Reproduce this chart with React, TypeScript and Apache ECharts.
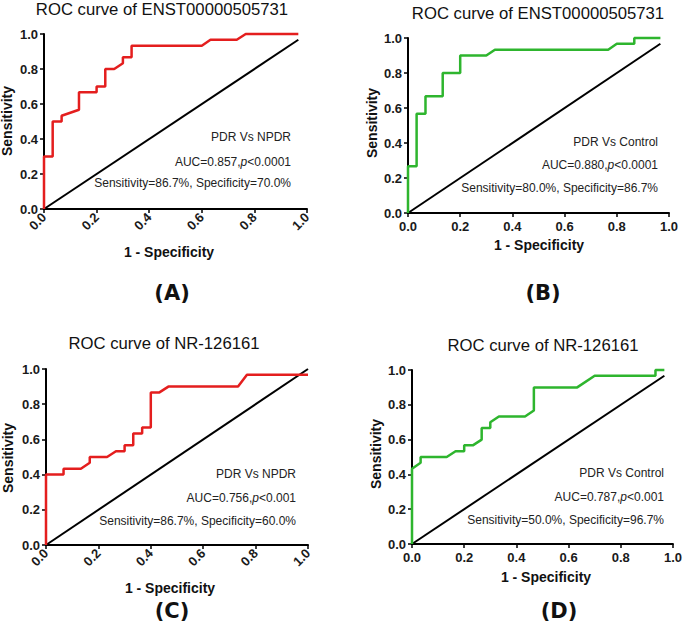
import React, { useEffect, useRef } from 'react';
import * as echarts from 'echarts';

// ---- data ----
const A_FPR = [0, 0, 0.033, 0.033, 0.067, 0.067, 0.133, 0.133, 0.2, 0.2, 0.233, 0.233, 0.267, 0.3, 0.3, 0.333, 0.333, 0.6, 0.633, 0.733, 0.767, 0.967];
const A_TPR = [0, 0.3, 0.3, 0.5, 0.5, 0.533, 0.567, 0.667, 0.667, 0.7, 0.7, 0.8, 0.8, 0.833, 0.867, 0.867, 0.933, 0.933, 0.967, 0.967, 1.0, 1.0];

const B_FPR = [0, 0, 0.033, 0.033, 0.067, 0.067, 0.133, 0.133, 0.2, 0.2, 0.3, 0.333, 0.767, 0.8, 0.867, 0.867, 0.967];
const B_TPR = [0, 0.267, 0.267, 0.567, 0.567, 0.667, 0.667, 0.8, 0.8, 0.9, 0.9, 0.933, 0.933, 0.967, 0.967, 1.0, 1.0];

const C_FPR = [0, 0, 0.067, 0.067, 0.133, 0.167, 0.167, 0.233, 0.267, 0.3, 0.3, 0.333, 0.333, 0.367, 0.367, 0.4, 0.4, 0.433, 0.467, 0.733, 0.767, 1.0];
const C_TPR = [0, 0.4, 0.4, 0.433, 0.433, 0.467, 0.5, 0.5, 0.533, 0.533, 0.567, 0.567, 0.633, 0.633, 0.667, 0.667, 0.867, 0.867, 0.9, 0.9, 0.967, 0.967];

const D_FPR = [0, 0, 0.033, 0.033, 0.133, 0.167, 0.2, 0.2, 0.233, 0.267, 0.267, 0.3, 0.3, 0.333, 0.433, 0.467, 0.467, 0.633, 0.7, 0.933, 0.933, 0.967];
const D_TPR = [0, 0.433, 0.467, 0.5, 0.5, 0.533, 0.533, 0.567, 0.567, 0.6, 0.667, 0.667, 0.7, 0.733, 0.733, 0.767, 0.9, 0.9, 0.967, 0.967, 1.0, 1.0];

const DIAG_END = [0.967, 0.967, 1.0, 0.967];

const TITLES = ['ROC curve of ENST00000505731', 'ROC curve of ENST00000505731', 'ROC curve of NR-126161', 'ROC curve of NR-126161'];
const COMPARISONS = ['PDR Vs NPDR', 'PDR Vs Control', 'PDR Vs NPDR', 'PDR Vs Control'];
const AUC = ['0.857', '0.880', '0.756', '0.787'];
const PVAL = ['<0.0001', '<0.0001', '<0.001', '<0.001'];
const SENS = ['86.7%', '80.0%', '86.7%', '50.0%'];
const SPEC = ['70.0%', '86.7%', '60.0%', '96.7%'];
const PANEL_LABELS = ['(A)', '(B)', '(C)', '(D)'];
const X_NAME = '1 - Specificity';
const Y_NAME = 'Sensitivity';

// ---- layout ----
const RED = '#e41e1e';
const GREEN = '#2eb52e';
const FONT = 'Arial, "Liberation Sans", sans-serif';

const PANELS = [
  { fpr: A_FPR, tpr: A_TPR, color: RED, rotate: 45, grid: { left: 44, top: 34, width: 263, height: 175 },
    title: [162, 9], ann: [291, 137, 162, 183], xName: [169, 252], yName: [7, 121], label: [172, 293] },
  { fpr: B_FPR, tpr: B_TPR, color: GREEN, rotate: 0, grid: { left: 408, top: 38, width: 261, height: 175 },
    title: [538, 13], ann: [658, 142, 165, 188], xName: [539, 245], yName: [372, 123], label: [543, 293] },
  { fpr: C_FPR, tpr: C_TPR, color: RED, rotate: 45, grid: { left: 46, top: 369, width: 262, height: 176 },
    title: [164, 343], ann: [296, 474, 498, 521], xName: [170, 588], yName: [8, 458], label: [172, 611] },
  { fpr: D_FPR, tpr: D_TPR, color: GREEN, rotate: 0, grid: { left: 412, top: 370, width: 265, height: 174 },
    title: [543, 345], ann: [664, 473, 497, 520], xName: [546, 577], yName: [376, 454], label: [559, 611] },
];

function buildOption() {
  const grid: any[] = [];
  const xAxis: any[] = [];
  const yAxis: any[] = [];
  const series: any[] = [];
  const graphic: any[] = [];

  PANELS.forEach((p, i) => {
    grid.push({ ...p.grid, containLabel: false });
    const axisCommon = {
      type: 'value',
      gridIndex: i,
      min: 0,
      max: 1,
      interval: 0.2,
      splitLine: { show: false },
      axisLine: { show: true, onZero: false, lineStyle: { color: '#000', width: 2 } },
      axisTick: { show: true, length: 4, lineStyle: { color: '#000', width: 1.5 } },
    };
    xAxis.push({
      ...axisCommon,
      axisLabel: {
        rotate: p.rotate, margin: p.rotate ? 6 : 7, fontSize: 13, fontWeight: 'bold', fontFamily: FONT, color: '#1a1a1a',
        formatter: (v: number) => v.toFixed(1),
      },
    });
    yAxis.push({
      ...axisCommon,
      axisLabel: {
        margin: 6, fontSize: 13, fontWeight: 'bold', fontFamily: FONT, color: '#1a1a1a',
        formatter: (v: number) => v.toFixed(1),
      },
    });
    series.push({
      type: 'line',
      xAxisIndex: i,
      yAxisIndex: i,
      data: [[0, 0], [DIAG_END[i], DIAG_END[i]]],
      symbol: 'none',
      clip: false,
      lineStyle: { color: '#000', width: 2 },
      z: 2,
    });
    series.push({
      type: 'line',
      xAxisIndex: i,
      yAxisIndex: i,
      data: p.fpr.map((x, k) => [x, p.tpr[k]]),
      symbol: 'none',
      clip: false,
      lineStyle: { color: p.color, width: 2.5 },
      z: 3,
    });

    // title
    graphic.push({
      type: 'text', x: p.title[0], y: p.title[1],
      style: { text: TITLES[i], fontSize: 16.7, fontFamily: FONT, fill: '#111', align: 'center', verticalAlign: 'middle' },
    });
    // annotations
    const annStyle = { fontSize: 12, fontFamily: FONT, fill: '#222', align: 'right', verticalAlign: 'middle' };
    graphic.push({ type: 'text', x: p.ann[0], y: p.ann[1], style: { ...annStyle, text: COMPARISONS[i] } });
    graphic.push({
      type: 'text', x: p.ann[0], y: p.ann[2],
      style: {
        ...annStyle,
        text: `{n|AUC=${AUC[i]},}{i|p}{n|${PVAL[i]}}`,
        rich: {
          n: { fontSize: 12, fontFamily: FONT, fill: '#222' },
          i: { fontSize: 12, fontFamily: FONT, fill: '#222', fontStyle: 'italic' },
        },
      },
    });
    graphic.push({
      type: 'text', x: p.ann[0], y: p.ann[3],
      style: { ...annStyle, text: `Sensitivity=${SENS[i]}, Specificity=${SPEC[i]}` },
    });
    // axis names
    graphic.push({
      type: 'text', x: p.xName[0], y: p.xName[1],
      style: { text: X_NAME, fontSize: 14, fontWeight: 'bold', fontFamily: FONT, fill: '#111', align: 'center', verticalAlign: 'middle' },
    });
    graphic.push({
      type: 'text', x: p.yName[0], y: p.yName[1], rotation: Math.PI / 2,
      style: { text: Y_NAME, fontSize: 14, fontWeight: 'bold', fontFamily: FONT, fill: '#111', align: 'center', verticalAlign: 'middle' },
    });
    // panel label
    graphic.push({
      type: 'text', x: p.label[0], y: p.label[1],
      style: { text: PANEL_LABELS[i], fontSize: 21, fontWeight: 'bold', fontFamily: '"DejaVu Sans", sans-serif', fill: '#111', align: 'center', verticalAlign: 'middle' },
    });
  });

  return {
    animation: false,
    backgroundColor: '#fff',
    grid,
    xAxis,
    yAxis,
    series,
    graphic,
  };
}

export default function App() {
  const ref = useRef<HTMLDivElement>(null);
  useEffect(() => {
    document.body.style.margin = '0';
    const chart = echarts.init(ref.current!, null, { renderer: 'svg' });
    chart.setOption(buildOption() as any);
    return () => chart.dispose();
  }, []);
  return <div ref={ref} style={{ width: 685, height: 629 }} />;
}
